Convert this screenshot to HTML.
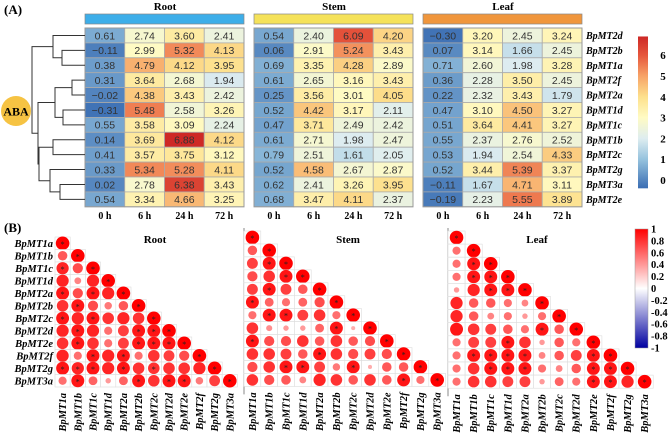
<!DOCTYPE html>
<html><head><meta charset="utf-8">
<style>
body{margin:0;background:#fff;}
svg{display:block;}
</style></head>
<body>
<svg id="fig" width="669" height="437" viewBox="0 0 669 437" xmlns="http://www.w3.org/2000/svg" font-family="Liberation Serif, serif"></svg>
<script>
const genesA=["BpMT2d","BpMT2b","BpMT1a","BpMT2f","BpMT2a","BpMT1d","BpMT1c","BpMT1b","BpMT2c","BpMT2g","BpMT3a","BpMT2e"];
const times=["0 h","6 h","24 h","72 h"];
const tissues=["Root","Stem","Leaf"];
const rootVals=[[0.61,2.74,3.60,2.41],[-0.11,2.99,5.32,4.13],[0.38,4.79,4.12,3.95],[0.31,3.64,2.68,1.94],[-0.02,4.38,3.43,2.42],[-0.31,5.48,2.58,3.26],[0.55,3.58,3.09,2.24],[0.14,3.69,6.88,4.12],[0.41,3.57,3.75,3.12],[0.33,5.34,5.28,4.11],[0.02,2.78,6.38,3.43],[0.54,3.34,4.66,3.25]];
const stemVals=[[0.54,2.40,6.09,4.20],[0.06,2.91,5.24,3.43],[0.69,3.35,4.28,2.89],[0.61,2.65,3.16,3.43],[0.25,3.56,3.01,4.05],[0.52,4.42,3.17,2.11],[0.47,3.71,2.49,2.42],[0.61,2.71,1.98,2.47],[0.79,2.51,1.61,2.05],[0.52,4.58,2.67,2.87],[0.62,2.41,3.26,3.95],[0.68,3.47,4.11,2.37]];
const leafVals=[[-0.30,3.20,2.45,3.24],[0.07,3.14,1.66,2.45],[0.71,2.60,1.98,3.28],[0.36,2.28,3.50,2.45],[0.22,2.32,3.43,1.79],[0.47,3.10,4.50,3.27],[0.51,3.64,4.41,3.27],[0.55,2.37,2.76,2.52],[0.53,1.94,2.54,4.33],[0.52,3.44,5.39,3.37],[-0.11,1.67,4.71,3.11],[-0.19,2.23,5.55,3.89]];
const colorbarTicks=[0,1,2,3,4,5,6];
const genesB=["BpMT1a","BpMT1b","BpMT1c","BpMT1d","BpMT2a","BpMT2b","BpMT2c","BpMT2d","BpMT2e","BpMT2f","BpMT2g","BpMT3a"];
const corrRoot=[[1],[.7,1],[.9,.75,1],[.9,.5,.9,1],[.95,.75,.95,.9,1],[.85,.95,.75,.55,.7,1],[.95,.9,.95,.85,.9,.85,1],[.9,.95,.9,.6,.8,.95,.95,1],[.85,.95,.85,.6,.8,.95,.95,.95,1],[.9,.6,.95,.9,.95,.6,.85,.8,.75,1],[.95,.9,.95,.9,.95,.85,.85,.85,.85,.9,1],[.6,.95,.65,.4,.65,.95,.85,.95,.95,.55,.8,1]];
const starsRoot=["1","01","101","0001","10101","010001","1010001","01000111","010001111","0010100001","11101010001","010001011001"];
const corrStem=[[1],[.7,1],[.8,.95,1],[.75,.85,.95,1],[.8,.95,.8,.7,1],[.95,.65,.6,.65,.75,1],[.6,.95,.95,.8,.85,.6,1],[.85,.45,.4,.4,.65,.95,.3,1],[.95,.75,.75,.85,.7,.85,.7,.75,1],[.85,.85,.8,.7,.95,.85,.75,.8,.75,1],[.75,.85,.95,.95,.8,.55,.95,.3,.7,.7,1],[.85,.75,.7,.5,.9,.85,.7,.85,.7,.95,.6,1]];
const starsStem=["1","01","011","0011","01001","100001","0110001","00000101","100000001","0000100001","00110010001","000000000101"];
const corrLeaf=[[1],[.6,1],[.6,.95,1],[.6,.95,.95,1],[.4,.9,.95,.95,1],[.9,.7,.7,.6,.5,1],[.9,.7,.5,.6,.4,.6,1],[.95,.85,.8,.7,.6,.95,.7,1],[.6,.8,.8,.95,.85,.4,.7,.6,1],[.6,.95,.95,.95,.95,.5,.7,.8,.95,1],[.6,.85,.95,.95,.95,.6,.5,.7,.95,.95,1],[.6,.85,.85,.8,.8,.4,.65,.6,.95,.95,.9,1]];
const starsLeaf=["1","01","011","0111","00111","000001","0000001","00000101","000100001","0111100011","00111000111","000000001101"];
const corrTicks=["1","0.8","0.6","0.4","0.2","0","-0.2","-0.4","-0.6","-0.8","-1"];

const NS="http://www.w3.org/2000/svg";
const svg=document.getElementById('fig');
function mk(tag,attrs,parent,txt){const e=document.createElementNS(NS,tag);for(const k in attrs)e.setAttribute(k,attrs[k]);if(txt!==undefined)e.textContent=txt;(parent||svg).appendChild(e);return e;}

const stops=[[-0.4,[58,109,179]],[1,[150,195,222]],[2,[222,237,240]],[3,[255,251,196]],[4,[253,224,140]],[5,[247,163,103]],[6,[230,86,60]],[6.9,[205,40,38]]];
function heat(v){if(v<=stops[0][0])return 'rgb('+stops[0][1]+')';for(let i=1;i<stops.length;i++){if(v<=stops[i][0]){const a=stops[i-1],b=stops[i],t=(v-a[0])/(b[0]-a[0]);return 'rgb('+a[1].map((c,j)=>Math.round(c+(b[1][j]-c)*t)).join(',')+')';}}return 'rgb('+stops[stops.length-1][1]+')';}

mk('text',{x:4,y:14,'font-size':13,'font-weight':'bold',},svg,'(A)');
const hx=[85,254,423], cw=39.75, hy0=28, rh=14.9;
const barCols=['#3daee9','#f5e25a','#f0963c'];
const allVals=[rootVals,stemVals,leafVals];
tissues.forEach((t,ti)=>{
  const g=mk('g',{});
  mk('text',{x:hx[ti]+80,y:10,'text-anchor':'middle','font-size':11,'font-weight':'bold',},g,t);
  mk('rect',{x:hx[ti],y:14,width:159,height:10,fill:barCols[ti],stroke:'#888','stroke-width':0.7,},g);
  allVals[ti].forEach((row,ri)=>{row.forEach((v,ci)=>{
    const c=mk('rect',{x:hx[ti]+ci*cw,y:hy0+ri*rh,width:cw,height:rh,fill:heat(v),stroke:'#aaa','stroke-width':0.8},g);
    
    
    const tx=mk('text',{x:hx[ti]+ci*cw+cw/2,y:hy0+ri*rh+rh/2+3.8,'text-anchor':'middle','font-size':10.5,'font-family':'Liberation Sans, sans-serif',fill:'#333'},g,v.toFixed(2).replace('-','\u2212'));
    
    
  });});
  mk('rect',{x:hx[ti],y:hy0,width:4*cw,height:12*rh,fill:'none',stroke:'#999','stroke-width':1},g);
  times.forEach((tm,ci)=>{const e=mk('text',{x:hx[ti]+ci*cw+cw/2,y:219,'text-anchor':'middle','font-size':10,'font-weight':'bold'},g,tm);
    });
});
genesA.forEach((gn,ri)=>{const e=mk('text',{x:586,y:hy0+ri*rh+rh/2+3.5,'font-size':10,'font-weight':'bold','font-style':'italic'},svg,gn);
  });
const defs=mk('defs',{});
const lg=mk('linearGradient',{id:'hg',x1:0,y1:1,x2:0,y2:0},defs);
stops.forEach(s=>mk('stop',{offset:((s[0]+0.4)/7.3),'stop-color':heat(s[0])},lg));
const cb0=180, cbu=20.8;
mk('rect',{x:638,y:cb0-6.9*cbu,width:10,height:7.3*cbu,fill:'url(#hg)',});
colorbarTicks.forEach(v=>{const e=mk('text',{x:663,y:cb0-v*cbu+4,'text-anchor':'middle','font-size':11,'font-weight':'bold'},svg,String(v));
  });
const dg=mk('g',{stroke:'#333','stroke-width':1,fill:'none',});
const ry=i=>hy0+i*rh+rh/2;
function br(x,y1,y2,xa,xb){mk('path',{d:`M${xa},${y1}H${x}V${y2}H${xb}`},dg);}
br(62,ry(1),ry(2),85,85); br(53,ry(0),(ry(1)+ry(2))/2,85,62);
br(72,ry(3),ry(4),85,85); br(63,ry(5),ry(6),85,85); br(55,(ry(3)+ry(4))/2,(ry(5)+ry(6))/2,72,63);
br(53,ry(7),ry(8),85,85); br(60,ry(10),ry(11),85,85); br(50,ry(9),(ry(10)+ry(11))/2,85,60);
const m1=(ry(7)+ry(8))/2,m2=(ry(9)+(ry(10)+ry(11))/2)/2; br(39,m1,m2,53,50);
const mA=((ry(3)+ry(4))/2+(ry(5)+ry(6))/2)/2, mB=(m1+m2)/2; br(38,mA,mB,55,39);
br(32,(ry(0)+(ry(1)+ry(2))/2)/2,(mA+mB)/2,53,38);
mk('circle',{cx:16,cy:111,r:15,fill:'#f6c343',});
mk('text',{x:16,y:115.5,'text-anchor':'middle','font-size':12,'font-weight':'bold',},svg,'ABA');

mk('text',{x:4,y:232,'font-size':13,'font-weight':'bold',},svg,'(B)');
function corrColor(v){const t=Math.max(0,Math.min(1,v));const k=Math.pow(1-t,0.8);return `rgb(255,${Math.round(230*k)},${Math.round(230*k)})`;}
const panels=[{n:'root',x0:55,y0:237,cw:15.2,rh:12.5,data:corrRoot,st:starsRoot,tx:155,ty:243,border:false},
 {n:'stem',x0:244,y0:231,cw:16.8,rh:12.95,data:corrStem,st:starsStem,tx:348,ty:243,border:true},
 {n:'leaf',x0:448,y0:231,cw:17.1,rh:13.1,data:corrLeaf,st:starsLeaf,tx:537,ty:243,border:true}];
panels.forEach((p,pi)=>{
  const g=mk('g',{});
  mk('text',{x:p.tx,y:p.ty,'text-anchor':'middle','font-size':11,'font-weight':'bold'},g,tissues[pi]);
  if(p.border){mk('path',{d:`M${p.x0},${p.y0-3}V${p.y0+12*p.rh+8}`,stroke:'#888','stroke-width':1,fill:'none'},g);}
  p.data.forEach((row,ri)=>{row.forEach((v,ci)=>{
    const cx=p.x0+ci*p.cw, cy=p.y0+ri*p.rh;
    mk('rect',{x:cx,y:cy,width:p.cw,height:p.rh,fill:'#fff',stroke:'#ddd','stroke-width':0.6},g);
    const c=mk('circle',{cx:cx+p.cw/2,cy:cy+p.rh/2,r:Math.abs(v)*6.8,fill:corrColor(v)},g);
    
    
    if(p.st[ri][ci]==='1'){const s=mk('text',{x:cx+p.cw/2,y:cy+p.rh/2+3.5,'text-anchor':'middle','font-size':8,fill:'#222'},g,'*');
      }
  });});
  genesB.forEach((gn,ci)=>{const x=p.x0+ci*p.cw+p.cw/2+3.5, y=p.y0+12*p.rh+6;
    const e=mk('text',{x:x,y:y,transform:`rotate(-90 ${x} ${y})`,'text-anchor':'end','font-size':10.5,'font-weight':'bold','font-style':'italic'},g,gn);
    });
  if(pi===0){genesB.forEach((gn,ri)=>{const e=mk('text',{x:53,y:p.y0+ri*p.rh+p.rh/2+3.5,'text-anchor':'end','font-size':10.5,'font-weight':'bold','font-style':'italic'},g,gn);
    });}
});
const lg2=mk('linearGradient',{id:'cg',x1:0,y1:0,x2:0,y2:1},defs);
mk('stop',{offset:0,'stop-color':'#ff0000'},lg2);mk('stop',{offset:0.5,'stop-color':'#ffffff'},lg2);mk('stop',{offset:1,'stop-color':'#0000a0'},lg2);
mk('rect',{x:635,y:229,width:13,height:119,fill:'url(#cg)',stroke:'#999','stroke-width':0.5,});
corrTicks.forEach((t,i)=>{const e=mk('text',{x:651,y:229+i*11.9+3.5,'font-size':10.5,'font-weight':'bold'},svg,t);
  });
</script>
</body></html>
